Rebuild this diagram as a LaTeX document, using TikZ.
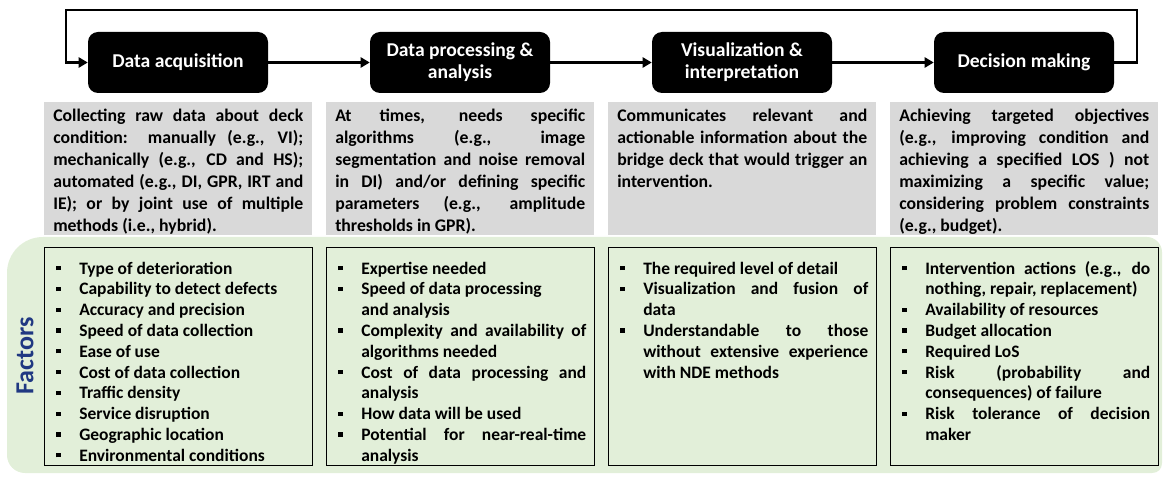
\documentclass[tikz,border=0pt]{standalone}
\usepackage{fontspec}
\setmainfont{Carlito}
\usetikzlibrary{arrows.meta}
\definecolor{grayfill}{RGB}{217,217,217}
\definecolor{greenfill}{RGB}{226,239,217}
\definecolor{factorblue}{RGB}{32,56,130}
\hyphenpenalty=10000
\exhyphenpenalty=10000
\newlength\bhang
\setlength\bhang{17.25pt}
\newlength\twid
\setlength\twid{186pt}
\newcommand\bulletbox{\hbox to\bhang{\rule[0.22em]{3.2pt}{3.2pt}\hfil}}
\newcommand\BJ[1]{\par\noindent\bulletbox\hbox to\dimexpr\twid-\bhang\relax{\spaceskip=0pt\xspaceskip=0pt #1}}
\newcommand\BN[1]{\par\noindent\bulletbox #1}
\newcommand\CJ[1]{\par\noindent\hspace*{\bhang}\hbox to\dimexpr\twid-\bhang\relax{\spaceskip=0pt\xspaceskip=0pt #1}}
\newcommand\CN[1]{\par\noindent\hspace*{\bhang}#1}
\tikzset{
  stage/.style={fill=black, text=white, rounded corners=7.5pt, minimum width=135pt, minimum height=45.75pt, align=center, inner sep=0pt, font=\bfseries\fontsize{14.7pt}{16.5pt}\selectfont},
  flow/.style={line width=1.9pt, -{Triangle[length=6.75pt,width=7.5pt]}},
  graybox/.style={fill=grayfill, anchor=north west, minimum width=201pt, minimum height=99.75pt, inner sep=0pt},
  graytext/.style={anchor=north west, inner sep=0pt, text width=187.5pt, align=justify, font=\bfseries\fontsize{13.3pt}{16.4pt}\selectfont},
  factorbox/.style={draw=black, line width=0.8pt, fill=greenfill, anchor=north west, minimum width=201pt, minimum height=163.5pt, inner sep=0pt},
  factortext/.style={anchor=north west, inner sep=0pt, text width=190pt, align=justify, font=\bfseries\fontsize{13.1pt}{15.6pt}\selectfont},
}
\begin{document}
\begin{tikzpicture}[x=0.75pt, y=-0.75pt]
\useasboundingbox (0,0) rectangle (1163,477);
% green background
\fill[greenfill] (7,273) .. controls (7,253) and (23,237) .. (43,237) -- (1147,237) .. controls (1155,237) and (1162,244) .. (1162,252) -- (1162,463) .. controls (1162,469) and (1158,473) .. (1152,473) -- (25,473) .. controls (15,473) and (7,465) .. (7,455) -- cycle;
% stages
\node[stage] (b1) at (178,62.5) {Data acquisition};
\node[stage] (b2) at (460,62.5) {Data processing \&\\analysis};
\node[stage] (b3) at (742,62.5) {Visualization \&\\interpretation};
\node[stage] (b4) at (1024,62.5) {Decision making};
\coordinate (fr) at (1137,10);
\coordinate (fl) at (66,10);
\draw[flow] (b1.east) -- (b2.west);
\draw[flow] (b2.east) -- (b3.west);
\draw[flow] (b3.east) -- (b4.west);
\draw[flow] (b4.east) -| (fr) -- (fl) |- (b1.west);
% gray description boxes
\node[graybox] (gA) at (44,102) {};
\node[graybox] (gB) at (326,102) {};
\node[graybox] (gC) at (608,102) {};
\node[graybox] (gD) at (890,102) {};
\node[graytext] (tA) at ([xshift=6.75pt,yshift=-5.25pt]gA.north west) {Collecting raw data about deck\linebreak condition: manually (e.g., VI);\linebreak mechanically (e.g., CD and HS);\linebreak automated (e.g., DI, GPR, IRT and\linebreak IE); or by joint use of multiple\linebreak methods (i.e., hybrid).};
\node[graytext] (tB) at ([xshift=6.75pt,yshift=-5.25pt]gB.north west) {At times, needs specific\linebreak algorithms (e.g., image\linebreak segmentation and noise removal\linebreak in DI) and/or defining specific\linebreak parameters (e.g., amplitude\linebreak thresholds in GPR).};
\node[graytext] (tC) at ([xshift=6.75pt,yshift=-5.25pt]gC.north west) {Communicates relevant and\linebreak actionable information about the\linebreak bridge deck that would trigger an\linebreak intervention.};
\node[graytext] (tD) at ([xshift=6.75pt,yshift=-5.25pt]gD.north west) {Achieving targeted objectives\linebreak (e.g., improving condition and\linebreak achieving a specified LOS ) not\linebreak maximizing a specific value;\linebreak considering problem constraints\linebreak (e.g., budget).};
% factors
\node[rotate=90, text=factorblue, font=\bfseries\fontsize{19.5pt}{21pt}\selectfont, inner sep=0pt] (fac) at (25,356) {Factors};
\node[factorbox] (iA) at (44,247) {};
\node[factorbox] (iB) at (326,247) {};
\node[factorbox] (iC) at (608,247) {};
\node[factorbox] (iD) at (890,247) {};
\node[factortext] (fA) at ([xshift=9pt,yshift=-4.5pt]iA.north west) {\BN{Type of deterioration}\BN{Capability to detect defects}\BN{Accuracy and precision}\BN{Speed of data collection}\BN{Ease of use}\BN{Cost of data collection}\BN{Traffic density}\BN{Service disruption}\BN{Geographic location}\BN{Environmental conditions}};
\node[factortext] (fB) at ([xshift=9pt,yshift=-4.5pt]iB.north west) {\BN{Expertise needed}\BN{Speed of data processing}\CN{and analysis}\BJ{Complexity and availability of}\CN{algorithms needed}\BJ{Cost of data processing and}\CN{analysis}\BN{How data will be used}\BJ{Potential for near-real-time}\CN{analysis}};
\node[factortext] (fC) at ([xshift=9pt,yshift=-4.5pt]iC.north west) {\BN{The required level of detail}\BJ{Visualization and fusion of}\CN{data}\BJ{Understandable to those}\CJ{without extensive experience}\CN{with NDE methods}};
\node[factortext] (fD) at ([xshift=9pt,yshift=-4.5pt]iD.north west) {\BJ{Intervention actions (e.g., do}\CN{nothing, repair, replacement)}\BN{Availability of resources}\BN{Budget allocation}\BN{Required LoS}\BJ{Risk (probability and}\CN{consequences) of failure}\BJ{Risk tolerance of decision}\CN{maker}};
\end{tikzpicture}
\end{document}
